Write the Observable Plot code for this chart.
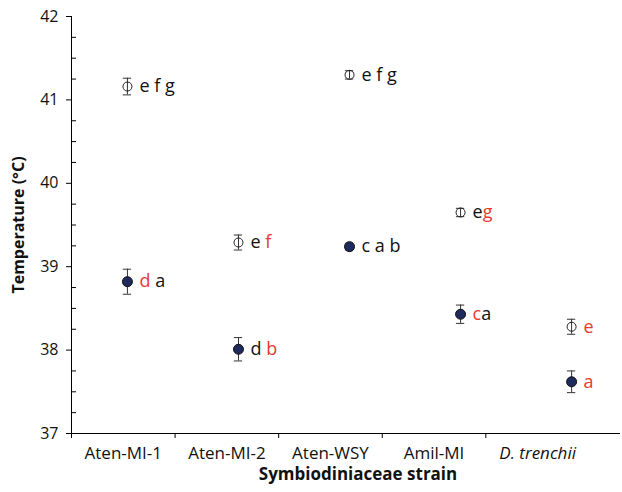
<!DOCTYPE html>
<html><head><meta charset="utf-8">
<script src="https://cdn.jsdelivr.net/npm/d3@7"></script>
<script src="https://cdn.jsdelivr.net/npm/@observablehq/plot@0.6"></script>
<style>
body{margin:0;background:#fff;}
#chart svg text{white-space:pre;}
</style>
</head><body><div id="chart"></div>
<script>
const strains = ["Aten-MI-1", "Aten-MI-2", "Aten-WSY", "Amil-MI", "D. trenchii"];
const upperMean = [41.16, 39.29, 41.30, 39.65, 38.28];
const upperErr  = [0.10, 0.09, 0.05, 0.05, 0.09];
const lowerMean = [38.82, 38.01, 39.24, 38.43, 37.62];
const lowerErr  = [0.15, 0.14, 0.04, 0.11, 0.13];
const upperLetters = ["e f g", "e f", "e f g", "eg", "e"];
const lowerLetters = ["d a", "d b", "c a b", "ca", "a"];
const upperRed = ["", "f", "", "g", "e"];
const lowerRed = ["d", "b", "", "c", "a"];
const yTicks = [37, 38, 39, 40, 41, 42];
const yMinor = [37.25,37.5,37.75,38.25,38.5,38.75,39.25,39.5,39.75,40.25,40.5,40.75,41.25,41.5,41.75];

const RED = "#e8392f";
const FONT = "Open Sans, sans-serif";
// layout: category slots of width 1; points drift slightly right of slot centres (as in the original)
const px = i => 0.54 + 1.072 * i;
const cap = 0.04;

const rows = strains.map((s, i) => ({
  strain: s, i, x: px(i),
  um: upperMean[i], ue: upperErr[i], lm: lowerMean[i], le: lowerErr[i],
  ul: upperLetters[i], ll: lowerLetters[i]
}));

const chart = Plot.plot({
  width: 622, height: 492,
  marginTop: 16, marginBottom: 59, marginLeft: 71, marginRight: 2,
  style: {fontFamily: FONT, background: "#fff"},
  x: {type: "linear", domain: [0, 5.3], axis: null},
  y: {domain: [37, 42], axis: null},
  marks: [
    Plot.ruleX([0], {y1: 37, y2: 42, stroke: "#000", strokeWidth: 1}),
    Plot.ruleY([37], {x1: 0, x2: 5.3, stroke: "#000", strokeWidth: 1}),
    Plot.axisY({ticks: yTicks, tickSize: 5, tickPadding: 8, fontSize: 16, label: null, tickFormat: d => d, stroke: "#000", color: "#111"}),
    Plot.ruleY(yMinor, {x1: 0, x2: 0.048, stroke: "#000"}),
    Plot.axisX({ticks: [0,1,2,3,4], tickSize: 5, tickFormat: () => "", label: null, stroke: "#000"}),
    Plot.text(rows.filter(d => d.i < 4), {x: d => d.i + 0.5, text: "strain", frameAnchor: "bottom", dy: 25, fontSize: 17, fill: "#111"}),
    Plot.text(rows.filter(d => d.i === 4), {x: d => d.i + 0.5, text: "strain", frameAnchor: "bottom", dy: 25, fontSize: 17, fontStyle: "italic", fill: "#111"}),
    Plot.text(["Symbiodiniaceae strain"], {frameAnchor: "bottom", dx: 12, dy: 46, fontSize: 17, fontWeight: "bold", fill: "#111"}),
    Plot.text(["Temperature (°C)"], {frameAnchor: "left", textAnchor: "middle", dx: -53, rotate: -90, fontSize: 16, fontWeight: "bold", fill: "#111"}),
    Plot.ruleX(rows, {x: "x", y1: d => d.um - d.ue, y2: d => d.um + d.ue, stroke: "#333"}),
    Plot.ruleY(rows, {y: d => d.um - d.ue, x1: d => d.x - cap, x2: d => d.x + cap, stroke: "#333"}),
    Plot.ruleY(rows, {y: d => d.um + d.ue, x1: d => d.x - cap, x2: d => d.x + cap, stroke: "#333"}),
    Plot.ruleX(rows, {x: "x", y1: d => d.lm - d.le, y2: d => d.lm + d.le, stroke: "#333"}),
    Plot.ruleY(rows, {y: d => d.lm - d.le, x1: d => d.x - cap, x2: d => d.x + cap, stroke: "#333"}),
    Plot.ruleY(rows, {y: d => d.lm + d.le, x1: d => d.x - cap, x2: d => d.x + cap, stroke: "#333"}),
    Plot.dot(rows, {x: "x", y: "um", r: 4.5, fill: "none", stroke: "#222", strokeWidth: 1}),
    Plot.dot(rows, {x: "x", y: "lm", r: 5, fill: "#1d2a5b", stroke: "#111", strokeWidth: 1}),
    Plot.text(rows, {x: "x", y: "um", text: "ul", textAnchor: "start", dx: 12, fontSize: 18, fill: "#111", ariaDescription: "letters-upper"}),
    Plot.text(rows, {x: "x", y: "lm", text: "ll", textAnchor: "start", dx: 12, fontSize: 18, fill: "#111", ariaDescription: "letters-lower"})
  ]
});

const ns = "http://www.w3.org/2000/svg";
function colorize(label, reds) {
  chart.querySelectorAll(`g[aria-description="${label}"] text`).forEach((t, i) => {
    const s = t.textContent;
    t.textContent = "";
    for (const ch of s) {
      const ts = document.createElementNS(ns, "tspan");
      ts.textContent = ch;
      if (ch !== " " && reds[i].includes(ch)) ts.setAttribute("fill", RED);
      t.appendChild(ts);
    }
  });
}
colorize("letters-upper", upperRed);
colorize("letters-lower", lowerRed);

document.getElementById("chart").appendChild(chart);
</script>
</body></html>
